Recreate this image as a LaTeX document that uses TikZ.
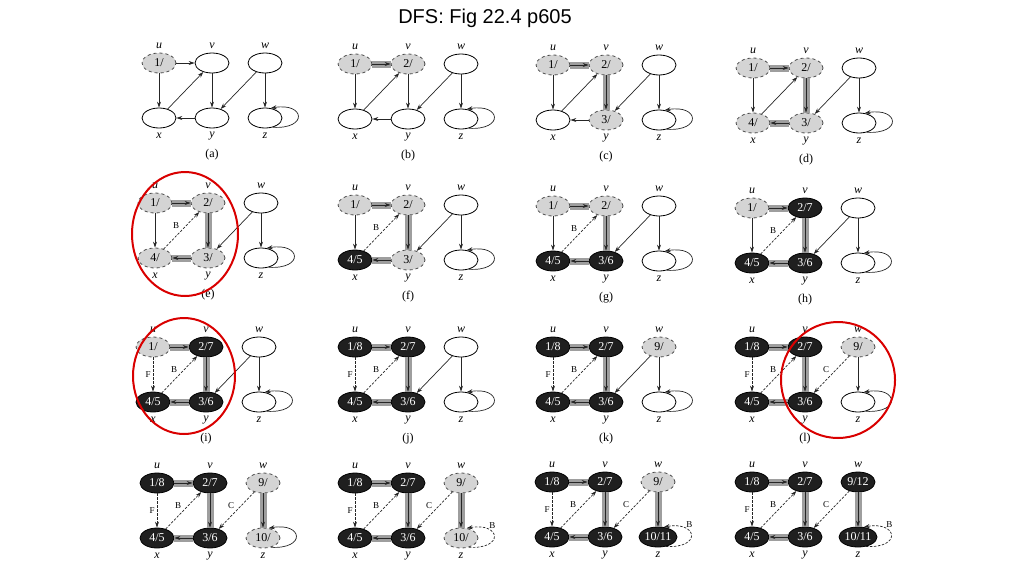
\documentclass[tikz,border=0pt]{standalone}
\usepackage{fontspec}
\setmainfont{Liberation Serif}
\newfontfamily\titlefont{Liberation Sans}
\usepackage{tikz}
\usetikzlibrary{arrows.meta}
\usetikzlibrary{shapes.geometric}
\tikzset{
    vnode/.style = {ellipse, inner sep=0pt, minimum width=34pt, minimum height=20pt, font=\fontsize{12}{12}\selectfont},
    white_node/.style = {vnode, draw=black, fill=white, line width=0.8pt},
    gray_node/.style = {vnode, draw=black!70, fill=black!17, dashed, line width=0.8pt},
    black_node/.style = {vnode, draw=black, fill=black!88, text=white, line width=0.8pt},
    vname/.style = {inner sep=0pt, font=\itshape\fontsize{12}{12}\selectfont},
    caption/.style = {inner sep=0pt, font=\fontsize{12}{12}\selectfont},
    elbl/.style = {inner sep=2pt, font=\fontsize{9}{9}\selectfont, text=black},
    ring/.style = {draw=red!85!black, line width=2pt},
    plain_edge/.style = {->, draw=black!85, line width=0.7pt},
    tree_edge/.style = {plain_edge, preaction={draw=black!38, line width=7pt, -}},
    dashed_edge/.style = {plain_edge, dash pattern=on 2.5pt off 1.5pt},
    back_edge/.style = {dashed_edge, edge node={node[elbl, auto]{B}}},
    forward_edge/.style = {dashed_edge, edge node={node[elbl, auto, swap]{F}}},
    cross_edge/.style = {dashed_edge, edge node={node[elbl, auto, swap]{C}}},
    self_loop/.style = {plain_edge, to path={(\tikztostart.-50) .. controls +(36,-2) and +(34,6) .. (\tikztostart.60) \tikztonodes}},
    back_loop/.style = {self_loop, dashed_edge, edge node={node[elbl, pos=0.72, above right, inner sep=1pt]{B}}},
    % edges of the graph, plain until the search reaches them
    e_uv/.style = plain_edge, e_ux/.style = plain_edge, e_vy/.style = plain_edge,
    e_xv/.style = plain_edge, e_yx/.style = plain_edge, e_wy/.style = plain_edge,
    e_wz/.style = plain_edge, e_zz/.style = self_loop,
    % what each figure adds to the one before
    fig_b/.style = {e_uv/.style=tree_edge},
    fig_c/.style = {fig_b, e_vy/.style=tree_edge},
    fig_d/.style = {fig_c, e_yx/.style=tree_edge},
    fig_e/.style = {fig_d, e_xv/.style=back_edge},
    fig_i/.style = {fig_e, e_ux/.style=forward_edge},
    fig_l/.style = {fig_i, e_wy/.style=cross_edge},
    fig_m/.style = {fig_l, e_wz/.style=tree_edge},
    fig_n/.style = {fig_m, e_zz/.style=back_loop}
}
% #1 place of u, #2 letter, #3 edge styles, #4..#9 nodes u v w x y z
\newcommand{\dfspanel}[9]{%
    \begin{scope}[shift={#1}, #3]
        \node (u) at (0,0) #4;
        \node (v) at (53,0) #5;
        \node (w) at (106,0) #6;
        \node (x) at (0,-55) #7;
        \node (y) at (53,-55) #8;
        \node (z) at (106,-55) #9;
        \node [vname] (lu) at (0,17) {u};
        \node [vname] (lv) at (53,17) {v};
        \node [vname] (lw) at (106,17) {w};
        \node [vname] (lx) at (0,-73) {x};
        \node [vname] (ly) at (53,-73) {y};
        \node [vname] (lz) at (106,-73) {z};
        \if\relax\detokenize{#2}\relax\else
            \node [caption] (cap) at (53,-92) {(#2)};
        \fi
        \path (u) edge[e_uv] (v)
              (u) edge[e_ux] (x)
              (v) edge[e_vy] (y)
              (x) edge[e_xv] (v)
              (y) edge[e_yx] (x)
              (w) edge[e_wy] (y)
              (w) edge[e_wz] (z)
              (z) edge[e_zz] (z);
    \end{scope}
}

\begin{document}
\begin{tikzpicture}[x=1pt, y=1pt, >={Stealth[length=6pt, width=4pt]}]
    \useasboundingbox (0,0) rectangle (1024,-576);
    \node [font=\titlefont\fontsize{20}{20}\selectfont] (title) at (485,-18) {DFS: Fig 22.4 p605};
    % row 1
    \dfspanel{(159,-63)}{a}{}{[gray_node]{1/}}{[white_node]{}}{[white_node]{}}{[white_node]{}}{[white_node]{}}{[white_node]{}}
    \dfspanel{(355,-64)}{b}{fig_b}{[gray_node]{1/}}{[gray_node]{2/}}{[white_node]{}}{[white_node]{}}{[white_node]{}}{[white_node]{}}
    \dfspanel{(553,-65)}{c}{fig_c}{[gray_node]{1/}}{[gray_node]{2/}}{[white_node]{}}{[white_node]{}}{[gray_node]{3/}}{[white_node]{}}
    \dfspanel{(753,-68)}{d}{fig_d}{[gray_node]{1/}}{[gray_node]{2/}}{[white_node]{}}{[gray_node]{4/}}{[gray_node]{3/}}{[white_node]{}}
    % row 2
    \dfspanel{(155,-203)}{e}{fig_e}{[gray_node]{1/}}{[gray_node]{2/}}{[white_node]{}}{[gray_node]{4/}}{[gray_node]{3/}}{[white_node]{}}
    \dfspanel{(355,-205)}{f}{fig_e}{[gray_node]{1/}}{[gray_node]{2/}}{[white_node]{}}{[black_node]{4/5}}{[gray_node]{3/}}{[white_node]{}}
    \dfspanel{(553,-206)}{g}{fig_e}{[gray_node]{1/}}{[gray_node]{2/}}{[white_node]{}}{[black_node]{4/5}}{[black_node]{3/6}}{[white_node]{}}
    \dfspanel{(752,-208)}{h}{fig_e}{[gray_node]{1/}}{[black_node]{2/7}}{[white_node]{}}{[black_node]{4/5}}{[black_node]{3/6}}{[white_node]{}}
    % row 3
    \dfspanel{(153,-347)}{i}{fig_i}{[gray_node]{1/}}{[black_node]{2/7}}{[white_node]{}}{[black_node]{4/5}}{[black_node]{3/6}}{[white_node]{}}
    \dfspanel{(355,-347)}{j}{fig_i}{[black_node]{1/8}}{[black_node]{2/7}}{[white_node]{}}{[black_node]{4/5}}{[black_node]{3/6}}{[white_node]{}}
    \dfspanel{(553,-347)}{k}{fig_i}{[black_node]{1/8}}{[black_node]{2/7}}{[gray_node]{9/}}{[black_node]{4/5}}{[black_node]{3/6}}{[white_node]{}}
    \dfspanel{(752,-347)}{l}{fig_l}{[black_node]{1/8}}{[black_node]{2/7}}{[gray_node]{9/}}{[black_node]{4/5}}{[black_node]{3/6}}{[white_node]{}}
    % row 4
    \dfspanel{(157,-483)}{}{fig_m}{[black_node]{1/8}}{[black_node]{2/7}}{[gray_node]{9/}}{[black_node]{4/5}}{[black_node]{3/6}}{[gray_node]{10/}}
    \dfspanel{(355,-483)}{}{fig_n}{[black_node]{1/8}}{[black_node]{2/7}}{[gray_node]{9/}}{[black_node]{4/5}}{[black_node]{3/6}}{[gray_node]{10/}}
    \dfspanel{(552,-482)}{}{fig_n}{[black_node]{1/8}}{[black_node]{2/7}}{[gray_node]{9/}}{[black_node]{4/5}}{[black_node]{3/6}}{[black_node]{10/11}}
    \dfspanel{(752,-482)}{}{fig_n}{[black_node]{1/8}}{[black_node]{2/7}}{[black_node]{9/12}}{[black_node]{4/5}}{[black_node]{3/6}}{[black_node]{10/11}}
    % red rings
    \draw [ring] (185,-234) ellipse [x radius=53, y radius=62];
    \draw [ring] (184,-376) ellipse [x radius=51, y radius=58];
    \draw [ring] (838,-380) ellipse [x radius=57, y radius=58];
\end{tikzpicture}
\end{document}
